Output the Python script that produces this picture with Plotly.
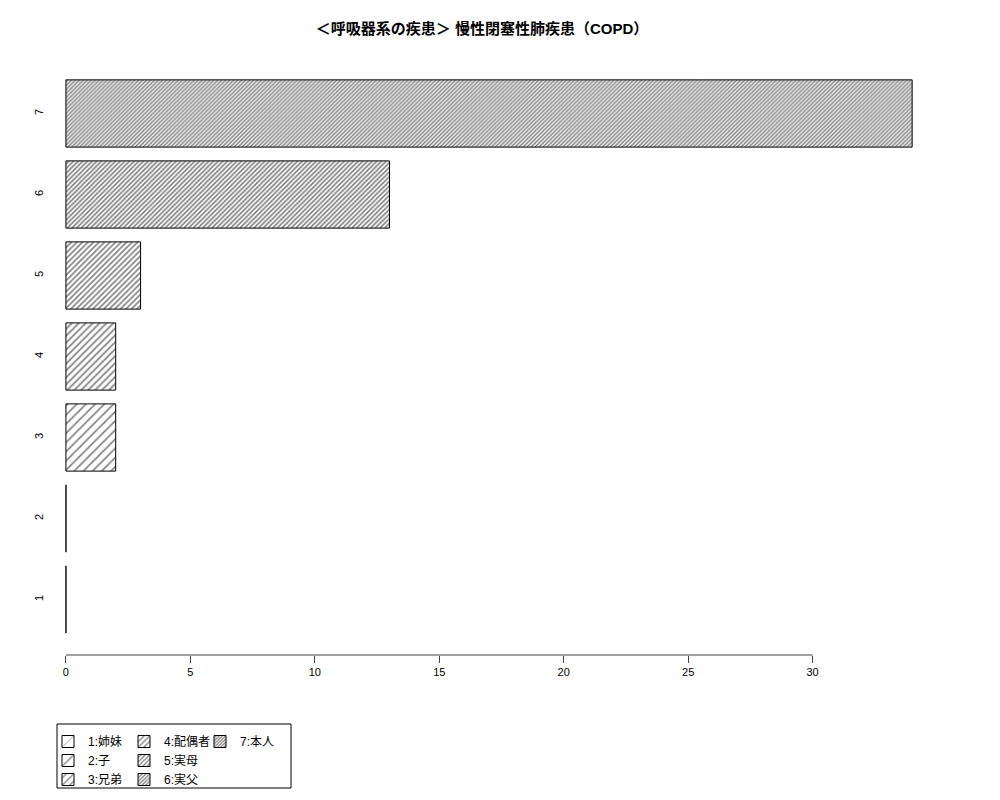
import plotly.graph_objects as go

# data
categories = [1, 2, 3, 4, 5, 6, 7]
values = [0, 0, 2, 2, 3, 13, 34]
names = ["1:姉妹", "2:子", "3:兄弟", "4:配偶者", "5:実母", "6:実父", "7:本人"]
xticks = [0, 5, 10, 15, 20, 25, 30]

title = "＜呼吸器系の疾患＞ 慢性閉塞性肺疾患（COPD）"

# hatch spacing (px) for each category, denser for higher ones
hatch_size = [19.5, 9.8, 6.5, 4.9, 3.9, 3.3, 2.8]
legend_of = ["legend", "legend", "legend", "legend2", "legend2", "legend2", "legend3"]

font = "Liberation Sans, Noto Sans CJK JP, sans-serif"
bar_w = 0.83

# page body adds 8px, so margins are 8px smaller than the target pixels
W, H = 1000, 800
ml, mr, mt, mb = 38, 62, 50, 153

fig = go.Figure()

for i in range(len(categories)):
    fig.add_trace(go.Bar(
        x=[values[i]], y=[categories[i]], orientation="h", width=bar_w,
        name=names[i], legend=legend_of[i],
        marker=dict(color="white",
                    line=dict(color="black", width=1),
                    pattern=dict(shape="/", size=hatch_size[i],
                                 solidity=min(0.55, 1.6 / hatch_size[i]),
                                 fgcolor="black", bgcolor="white",
                                 fillmode="overlay")),
    ))
    # zero-length bars still show their border in the original
    if values[i] == 0:
        fig.add_trace(go.Scatter(
            x=[values[i], values[i]],
            y=[categories[i] - bar_w / 2, categories[i] + bar_w / 2],
            mode="lines", line=dict(color="#555", width=1),
            showlegend=False, hoverinfo="skip"))

# R style x axis line only over the tick span
fig.add_shape(type="line", xref="x", yref="paper",
              x0=xticks[0], x1=xticks[-1], y0=0, y1=0,
              line=dict(color="#444", width=1))

pw = W - ml - mr
ph = H - mt - mb
def px_x(p):
    return (p - ml) / pw
def px_y(p):
    return 1 - (p - mt) / ph

# legend box
fig.add_shape(type="rect", xref="paper", yref="paper",
              x0=px_x(49), x1=px_x(283), y0=px_y(780), y1=px_y(716),
              line=dict(color="black", width=1), fillcolor="rgba(0,0,0,0)")

leg = dict(xref="container", yref="container", yanchor="top", xanchor="left",
           bgcolor="rgba(0,0,0,0)", borderwidth=0, orientation="v",
           font=dict(family=font, size=12, color="black"),
           itemwidth=30, tracegroupgap=0)

fig.update_layout(
    width=W, height=H,
    margin=dict(l=ml, r=mr, t=mt, b=mb, autoexpand=False),
    paper_bgcolor="white", plot_bgcolor="white",
    barmode="overlay",
    title=dict(text="<b>" + title + "</b>", xref="container", yref="container",
               x=0.474, y=1 - 21 / 800, xanchor="center", yanchor="middle",
               font=dict(family=font, size=15, color="black")),
    font=dict(family=font, size=11, color="black"),
    xaxis=dict(range=[-0.8, 35.36], tickvals=xticks, ticks="outside", ticklen=7,
               tickcolor="#444", showgrid=False, zeroline=False, showline=False,
               tickfont=dict(size=11)),
    yaxis=dict(range=[0.315, 7.685], tickvals=categories,
               ticktext=[str(c) for c in categories], tickangle=-90,
               showgrid=False, zeroline=False, showline=False, ticks="",
               tickfont=dict(size=11)),
    legend=dict(leg, x=40 / W, y=1 - 719 / H),
    legend2=dict(leg, x=116 / W, y=1 - 719 / H),
    legend3=dict(leg, x=192 / W, y=1 - 719 / H),
)

fig.write_html("out.html")
